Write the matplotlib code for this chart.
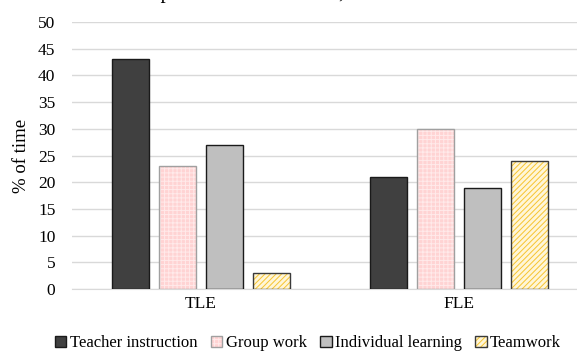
import matplotlib.pyplot as plt
import matplotlib.colors as mcolors
import numpy as np

plt.rcParams['font.family'] = ['Liberation Serif', 'DejaVu Serif']
plt.rcParams['hatch.linewidth'] = 0.7

groups = ['TLE', 'FLE']
series = ['Teacher instruction', 'Group work', 'Individual learning', 'Teamwork']
values = {
    'Teacher instruction': [43, 21],
    'Group work': [23, 30],
    'Individual learning': [27, 19],
    'Teamwork': [3, 24],
}
yticks = [0, 5, 10, 15, 20, 25, 30, 35, 40, 45, 50]

faces = ['#404040', '#ffd3d3', '#bfbfbf', '#fff6d8']
edges = ['#1a1a1a', '#a0a0a0', '#1a1a1a', '#3a3a3a']
hatches = [None, '++++', None, '//////']
hatch_cols = [None, '#ffeaea', None, '#f7c430']

fig = plt.figure(figsize=(5.77, 3.53), dpi=100)
ax = fig.add_axes([72 / 577, 1 - 289 / 353, 516 / 577, 267 / 353])

x = np.arange(len(groups))
width = 0.143
step = 0.182
for i, name in enumerate(series):
    pos = x + (i - 1.5) * step
    bars = ax.bar(pos, values[name], width, color=faces[i], edgecolor=edges[i],
                  linewidth=1.0, label=name, zorder=3)
    if hatches[i]:
        for b in bars:
            b.set_hatch(hatches[i])
            b._hatch_color = mcolors.to_rgba(hatch_cols[i])

ax.set_xlim(-0.5, 1.5)
ax.set_ylim(0, 50)
ax.set_yticks(yticks)
ax.set_xticks(x)
ax.set_xticklabels(groups, fontsize=12.5)
ax.tick_params(axis='both', length=0, labelsize=12.5)
ax.tick_params(axis='y', pad=12)
ax.tick_params(axis='x', pad=5)
ax.grid(axis='y', color='#d9d9d9', linewidth=1, zorder=0)
for s in ['top', 'right', 'left']:
    ax.spines[s].set_visible(False)
ax.spines['bottom'].set_color('#d9d9d9')
ax.set_ylabel('% of time', fontsize=13.5, labelpad=6)

fig.text(104 / 577, 1 + 2 / 353, 'Time spent in the classroom, %', fontsize=15,
         ha='left', va='baseline')

handles, labels = ax.get_legend_handles_labels()
fig.legend(handles, labels, loc='lower center', bbox_to_anchor=(308 / 577, -0.038),
           ncol=4, frameon=False, fontsize=12, handlelength=0.7, handleheight=0.7,
           handletextpad=0.2, columnspacing=0.8)

fig.savefig('out.png', dpi=100)
